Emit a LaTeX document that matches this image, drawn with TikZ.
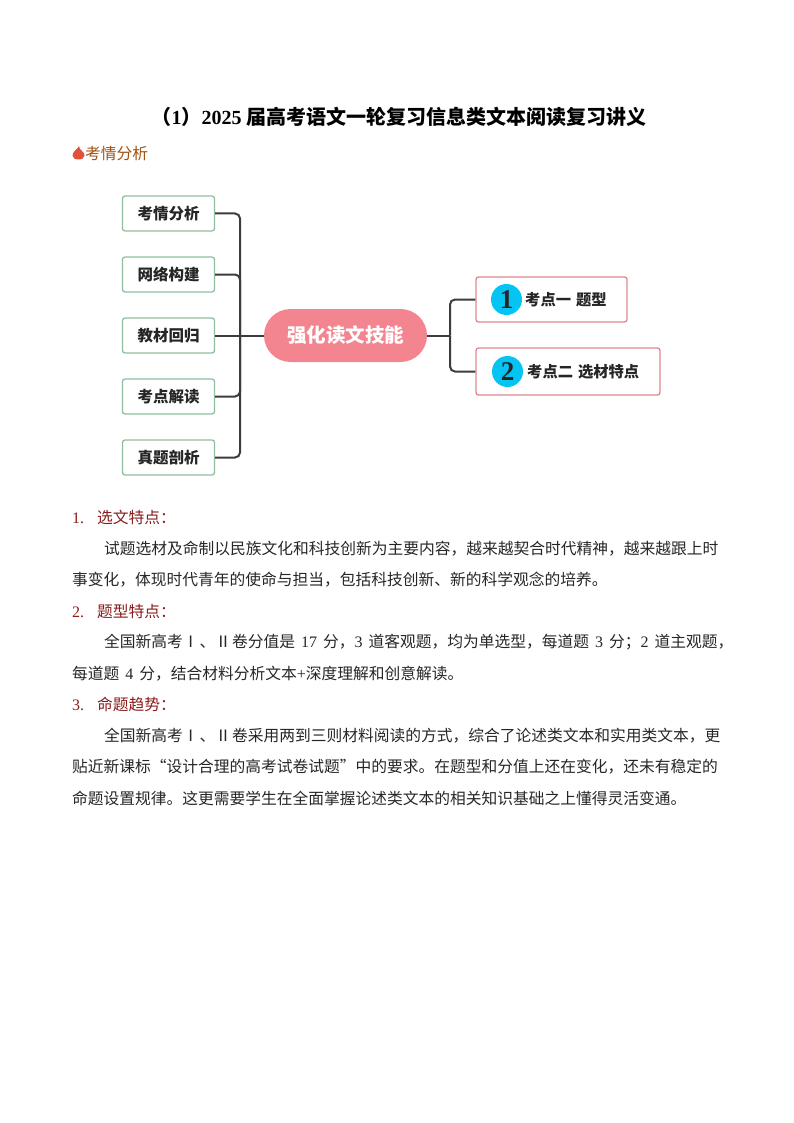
\documentclass[tikz,border=0pt]{standalone}
\usepackage{fontspec}
\setmainfont{Noto Sans CJK SC}
\newfontfamily\latfont{Liberation Serif}
\definecolor{branchgray}{HTML}{3C3C3C}
\definecolor{greenline}{HTML}{8FBE9F}
\definecolor{pinkline}{HTML}{E08892}
\definecolor{pinkfill}{HTML}{F2858F}
\definecolor{badgeblue}{HTML}{04C4F4}
\definecolor{headbrown}{HTML}{A0500F}
\definecolor{headred}{HTML}{8A1C1C}
\definecolor{flamered}{HTML}{E0523A}
\tikzset{
	topicbox/.style = {draw = greenline, line width = 1.3pt, rounded corners = 2.5pt, fill = white, minimum width = 92pt, minimum height = 35pt, inner sep = 0pt, font = \fontsize{15.5}{16}\selectfont\bfseries, text = black!85},
	pointbox/.style = {draw = pinkline, line width = 1.3pt, rounded corners = 2.5pt, fill = white, inner sep = 0pt},
	badge/.style = {circle, fill = badgeblue, minimum size = 31pt, inner sep = 0pt, font = \fontsize{27}{27}\latfont\bfseries, text = black!85},
	pointtext/.style = {anchor = west, inner sep = 0pt, font = \fontsize{15.3}{16}\selectfont\bfseries, text = black!85},
	branch/.style = {draw = branchgray, line width = 2pt, rounded corners = 5pt},
	bodytext/.style = {anchor = west, inner sep = 0pt, font = \fontsize{15.75}{16}\selectfont, text = black!85},
	headtext/.style = {anchor = west, inner sep = 0pt, font = \fontsize{15.75}{16}\selectfont, text = headred}
}
\newcommand{\lat}[1]{{\latfont\fontsize{16}{16}\selectfont #1}}
\newcommand{\gap}{\hspace{6pt}}
\newcommand{\romangap}{\hspace{1pt}}
\begin{document}
\begin{tikzpicture}[x = 1pt, y = -1pt]
	\useasboundingbox (0,0) rectangle (794,1123);
	\node[anchor = west, inner sep = 0pt, font = \fontsize{20}{20}\selectfont\bfseries] (TITLE) at (151.5,117) {（{\latfont 1}）{\latfont 2025} 届高考语文一轮复习信息类文本阅读复习讲义};
	\fill[color = flamered] (79,146) .. controls (79,150) and (84.5,151.5) .. (84.5,155.5) .. controls (84.5,158) and (82,159.5) .. (78.5,159.5) .. controls (75,159.5) and (72.5,158) .. (72.5,155.5) .. controls (72.5,151.5) and (77,150) .. (79,146) -- cycle;
	\node[bodytext, text = headbrown] (ANALYSIS) at (85,153.5) {考情分析};

	\node[topicbox] (T1) at (168.5,213.5) {考情分析};
	\node[topicbox] (T2) at (168.5,274.5) {网络构建};
	\node[topicbox] (T3) at (168.5,335.5) {教材回归};
	\node[topicbox] (T4) at (168.5,396.5) {考点解读};
	\node[topicbox] (T5) at (168.5,457.5) {真题剖析};
	\node[inner sep = 0pt, minimum size = 0pt] (J) at (240,335.5) {};
	\node[rounded corners = 26.5pt, fill = pinkfill, minimum width = 163pt, minimum height = 53pt, inner sep = 0pt, text = white, font = \fontsize{19.5}{20}\selectfont\bfseries] (HUB) at (345.5,335.5) {强化读文技能};
	\node[pointbox, minimum width = 151pt, minimum height = 45pt] (P1) at (551.5,299.5) {};
	\node[pointbox, minimum width = 184pt, minimum height = 47pt] (P2) at (568,371.5) {};
	\node[badge] (B1) at (506.5,299.5) {1};
	\node[badge] (B2) at (507.5,371.5) {2};
	\node[pointtext] (L1) at (525,299.5) {考点一\hspace{5pt}题型};
	\node[pointtext] (L2) at (527,371.5) {考点二\hspace{5pt}选材特点};
	\node[inner sep = 0pt, minimum size = 0pt] (K) at (450,335.5) {};

	\draw[branch] (T1.east) -| (J.center);
	\draw[branch] (T2.east) -| (J.center);
	\draw[branch] (T4.east) -| (J.center);
	\draw[branch] (T5.east) -| (J.center);
	\draw[branch] (T3.east) -- (HUB.west);
	\draw[branch] (HUB.east) -- (K.center);
	\draw[branch] (P1.west) -| (K.center);
	\draw[branch] (P2.west) -| (K.center);

	\node[headtext] (H1) at (72,517) {\lat{1.}\hspace{13pt}选文特点：};
	\node[bodytext] (A1) at (104,548.5) {试题选材及命制以民族文化和科技创新为主要内容，越来越契合时代精神，越来越跟上时};
	\node[bodytext] (A2) at (72,580) {事变化，体现时代青年的使命与担当，包括科技创新、新的科学观念的培养。};
	\node[headtext] (H2) at (72,611.5) {\lat{2.}\hspace{13pt}题型特点：};
	\node[bodytext] (B3) at (104,642.5) {全国新高考Ⅰ\romangap、Ⅱ\romangap 卷分值是\gap\lat{17}\gap 分，\lat{3}\gap 道客观题，均为单选型，每道题\gap\lat{3}\gap 分；\lat{2}\gap 道主观题，};
	\node[bodytext] (B4) at (72,673.5) {每道题\gap\lat{4}\gap 分，结合材料分析文本\lat{+}深度理解和创意解读。};
	\node[headtext] (H3) at (72,704.5) {\lat{3.}\hspace{13pt}命题趋势：};
	\node[bodytext] (C1) at (104,735.5) {全国新高考Ⅰ\romangap、Ⅱ\romangap 卷采用两到三则材料阅读的方式，综合了论述类文本和实用类文本，更};
	\node[bodytext] (C2) at (72,767) {贴近新课标“设计合理的高考试卷试题”中的要求。在题型和分值上还在变化，还未有稳定的};
	\node[bodytext] (C3) at (72,798) {命题设置规律。这更需要学生在全面掌握论述类文本的相关知识基础之上懂得灵活变通。};
\end{tikzpicture}
\end{document}
